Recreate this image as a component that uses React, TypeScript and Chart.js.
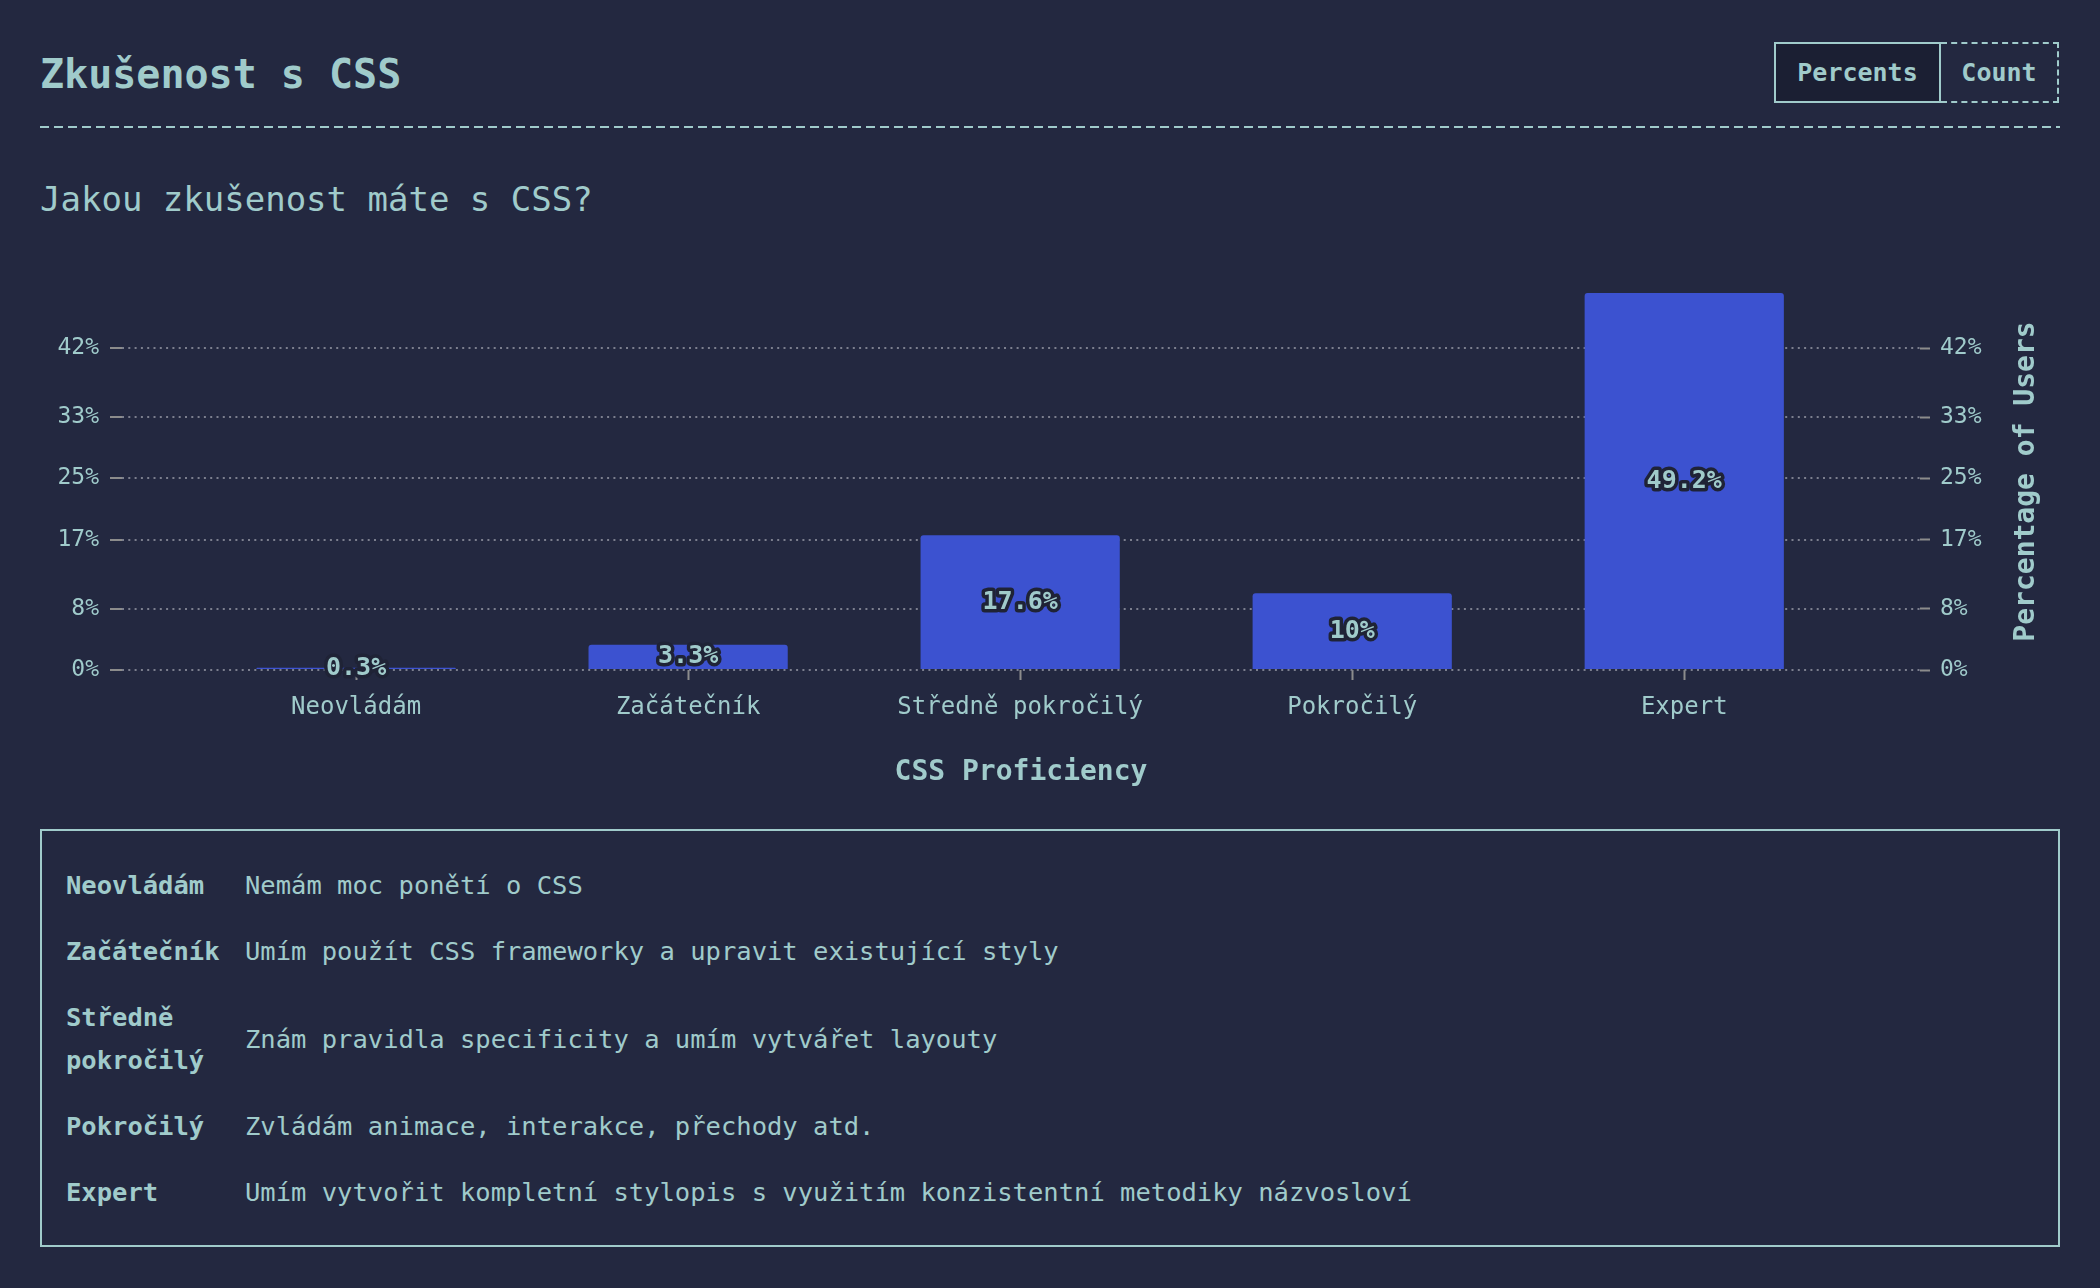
import React, { useEffect, useRef } from 'react';
import { Chart, registerables } from 'chart.js';

Chart.register(...registerables);

const pageTitle = 'Zkušenost s CSS';
const question = 'Jakou zkušenost máte s CSS?';
const toggleLabels = ['Percents', 'Count'];
const categories = ['Neovládám', 'Začátečník', 'Středně pokročilý', 'Pokročilý', 'Expert'];
const percentValues = [0.3, 3.3, 17.6, 10, 49.2];
const yTickValues = [0, 8, 17, 25, 33, 42];
const xAxisTitle = 'CSS Proficiency';
const yAxisTitle = 'Percentage of Users';
const descriptions = [
  'Nemám moc ponětí o CSS',
  'Umím použít CSS frameworky a upravit existující styly',
  'Znám pravidla specificity a umím vytvářet layouty',
  'Zvládám animace, interakce, přechody atd.',
  'Umím vytvořit kompletní stylopis s využitím konzistentní metodiky názvosloví',
];

const FONT = "'DejaVu Sans Mono', monospace";
const BG = '#232840';
const TEXT = '#a0cbcb';
const BAR = '#3c52d0';
const GRID = '#7c7f8e';
const TICK = '#8c8c8c';
const STROKE = '#1f2336';
const BTN_BG = '#1b1f33';

const barLabelPlugin = {
  id: 'barLabels',
  afterDatasetsDraw(chart: any) {
    const ctx = chart.ctx;
    const meta = chart.getDatasetMeta(0);
    ctx.save();
    ctx.font = `bold 25px ${FONT}`;
    ctx.textAlign = 'center';
    ctx.textBaseline = 'middle';
    ctx.lineJoin = 'round';
    ctx.lineWidth = 7;
    ctx.strokeStyle = STROKE;
    ctx.fillStyle = TEXT;
    meta.data.forEach((bar: any, i: number) => {
      const { x, y, base } = bar.getProps(['x', 'y', 'base'], true);
      const cy = (y + base) / 2;
      const text = `${percentValues[i]}%`;
      ctx.strokeText(text, x, cy);
      ctx.fillText(text, x, cy);
    });
    ctx.restore();
  },
};

const rightTitlePlugin = {
  id: 'rightTitle',
  afterDraw(chart: any) {
    const { ctx, chartArea } = chart;
    const scale = chart.scales.y2;
    ctx.save();
    ctx.translate(scale.right - 33, (chartArea.top + chartArea.bottom) / 2);
    ctx.rotate(-Math.PI / 2);
    ctx.font = `bold 28px ${FONT}`;
    ctx.textAlign = 'center';
    ctx.textBaseline = 'middle';
    ctx.fillStyle = TEXT;
    ctx.fillText(yAxisTitle, 0, 0);
    ctx.restore();
  },
};

function BarChart() {
  const ref = useRef<HTMLCanvasElement | null>(null);
  useEffect(() => {
    if (!ref.current) return;
    const yMax = Math.max(...percentValues);
    const yTicks = {
      color: TEXT,
      font: { family: FONT, size: 23 },
      callback: (v: any) => `${v}%`,
    };
    const chart = new Chart(ref.current, {
      type: 'bar',
      data: {
        datasets: [
          {
            data: percentValues.map((v, i) => ({ x: i, y: v })) as any,
            backgroundColor: BAR,
            borderRadius: 3,
            borderSkipped: 'bottom',
            categoryPercentage: 1,
            barPercentage: 0.6,
            xAxisID: 'x',
            yAxisID: 'y',
          },
        ],
      },
      options: {
        animation: false,
        responsive: true,
        maintainAspectRatio: false,
        layout: { padding: { top: 61, left: 0, right: 0, bottom: 0 } },
        plugins: {
          legend: { display: false },
          tooltip: { enabled: false },
          title: { display: false },
        },
        scales: {
          x: {
            type: 'linear',
            position: 'bottom',
            min: -0.705,
            max: 4.71,
            offset: false,
            grid: {
              offset: false,
              drawOnChartArea: false,
              drawTicks: true,
              tickLength: 10,
              tickColor: TICK,
              tickWidth: 2,
            },
            border: { display: false },
            ticks: {
              autoSkip: false,
              maxRotation: 0,
              padding: 13,
              color: TEXT,
              font: { family: FONT, size: 24 },
              callback: (v: any) => categories[v] ?? '',
            },
            afterBuildTicks: (s: any) => {
              s.ticks = categories.map((_, i) => ({ value: i }));
            },
            afterFit: (s: any) => {
              s.height = 132;
            },
            title: {
              display: true,
              text: xAxisTitle,
              color: TEXT,
              font: { family: FONT, size: 28, weight: 'bold' },
              padding: { top: 0, bottom: 12 },
            },
          } as any,
          y: {
            position: 'left',
            min: 0,
            max: yMax,
            grid: {
              color: GRID,
              lineWidth: 2,
              drawTicks: true,
              tickLength: 12,
              tickColor: TICK,
              tickWidth: 2,
            },
            border: { display: false, dash: [2, 4.3] },
            ticks: { ...yTicks, padding: 11 },
            afterBuildTicks: (s: any) => {
              s.ticks = yTickValues.map((v) => ({ value: v }));
            },
            afterFit: (s: any) => {
              s.width = 82;
            },
          } as any,
          y2: {
            position: 'right',
            min: 0,
            max: yMax,
            grid: {
              drawOnChartArea: false,
              drawTicks: true,
              tickLength: 10,
              tickColor: TICK,
              tickWidth: 2,
            },
            border: { display: false },
            ticks: { ...yTicks, padding: 10 },
            afterBuildTicks: (s: any) => {
              s.ticks = yTickValues.map((v) => ({ value: v }));
            },
            afterFit: (s: any) => {
              s.width = 140;
            },
          } as any,
        },
      },
      plugins: [barLabelPlugin, rightTitlePlugin],
    });
    return () => chart.destroy();
  }, []);
  return (
    <div style={{ position: 'absolute', left: 40, top: 232, width: 2020, height: 570 }}>
      <canvas ref={ref} />
    </div>
  );
}

export default function App() {
  const btnBase: React.CSSProperties = {
    height: 61,
    boxSizing: 'border-box',
    display: 'flex',
    alignItems: 'center',
    justifyContent: 'center',
    fontWeight: 'bold',
    fontSize: 25,
    color: TEXT,
  };
  return (
    <div
      style={{
        position: 'absolute',
        left: 0,
        top: 0,
        width: 2100,
        height: 1288,
        background: BG,
        overflow: 'hidden',
        fontFamily: FONT,
        color: TEXT,
      }}
    >
      <div
        style={{
          position: 'absolute',
          left: 40,
          top: 54,
          fontSize: 40,
          lineHeight: '40px',
          fontWeight: 'bold',
          whiteSpace: 'nowrap',
        }}
      >
        {pageTitle}
      </div>
      <div style={{ position: 'absolute', left: 1774, top: 42, display: 'flex' }}>
        <div style={{ ...btnBase, width: 167, border: `2px solid ${TEXT}`, background: BTN_BG }}>
          {toggleLabels[0]}
        </div>
        <div style={{ ...btnBase, width: 118, border: `2px dashed ${TEXT}`, borderLeft: 'none' }}>
          {toggleLabels[1]}
        </div>
      </div>
      <div
        style={{
          position: 'absolute',
          left: 40,
          top: 126,
          width: 2020,
          height: 2,
          backgroundImage: `repeating-linear-gradient(to right, ${TEXT} 0px, ${TEXT} 9px, transparent 9px, transparent 14px)`,
        }}
      />
      <div
        style={{
          position: 'absolute',
          left: 40,
          top: 182,
          fontSize: 34,
          lineHeight: '34px',
          whiteSpace: 'nowrap',
        }}
      >
        {question}
      </div>
      <BarChart />
      <div
        style={{
          position: 'absolute',
          left: 40,
          top: 829,
          width: 2020,
          height: 418,
          boxSizing: 'border-box',
          border: `2px solid ${TEXT}`,
          padding: '33px 24px 31px 24px',
          display: 'grid',
          gridTemplateColumns: '155px 1fr',
          columnGap: 24,
          rowGap: 23,
          alignContent: 'start',
          alignItems: 'center',
          fontSize: 25.5,
          lineHeight: '43px',
        }}
      >
        {categories.map((c, i) => (
          <React.Fragment key={c}>
            <div style={{ fontWeight: 'bold' }}>{c}</div>
            <div>{descriptions[i]}</div>
          </React.Fragment>
        ))}
      </div>
    </div>
  );
}
